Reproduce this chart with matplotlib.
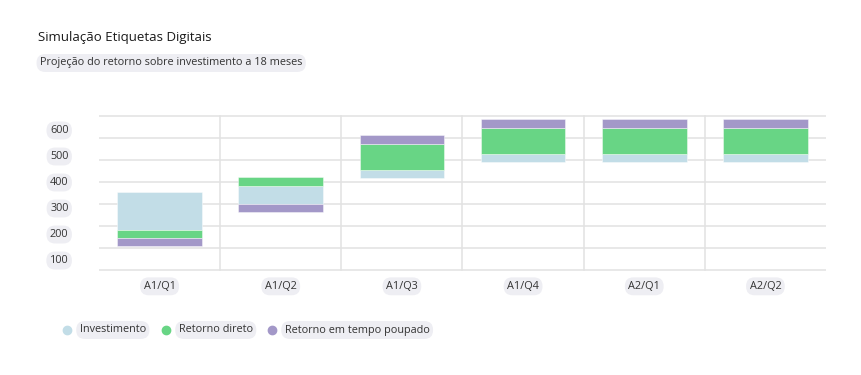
import matplotlib
matplotlib.use("Agg")
import matplotlib.pyplot as plt
from matplotlib.lines import Line2D
import numpy as np

plt.rcParams['font.family'] = ['Open Sans', 'DejaVu Sans']

# dados
categorias = ["A1/Q1", "A1/Q2", "A1/Q3", "A1/Q4", "A2/Q1", "A2/Q2"]
investimento_min = [182, 299, 417, 490, 490, 490]
investimento_max = [356, 382, 456, 529, 529, 529]
direto_min = [144, 382, 456, 529, 529, 529]
direto_max = [182, 421, 573, 645, 645, 645]
tempo_min = [108, 262, 573, 645, 645, 645]
tempo_max = [144, 299, 612, 685, 685, 685]
eixo_labels = [100, 200, 300, 400, 500, 600]

series = [
    ("Investimento", investimento_min, investimento_max, "#c2dde7"),
    ("Retorno direto", direto_min, direto_max, "#68d585"),
    ("Retorno em tempo poupado", tempo_min, tempo_max, "#a398c8"),
]

W, H = 862, 375
fig = plt.figure(figsize=(W / 100, H / 100), dpi=100)
left, right = 99, 826
top_px, bot_px = 114.9, 271.1
ax = fig.add_axes([left / W, 1 - bot_px / H, (right - left) / W, (bot_px - top_px) / H])

x = np.arange(len(categorias))
for nome, lo, hi, cor in series:
    lo = np.array(lo)
    hi = np.array(hi)
    ax.bar(x, hi - lo, bottom=lo, width=0.70, color=cor, edgecolor=(1, 1, 1, 0.5),
           linewidth=0.6, label=nome, zorder=3)

ax.set_xlim(-0.5, 5.5)
ax.set_ylim(-5, 705)
ax.set_yticks(range(0, 701, 100))
ax.yaxis.grid(True, color="#e2e2e2", linewidth=1.1, zorder=0)
for b in np.arange(0.5, 5, 1):
    ax.axvline(b, color="#e2e2e2", linewidth=1.1, ymin=5 / 710, ymax=705 / 710, zorder=0)
ax.tick_params(axis="y", length=0, labelleft=False)
for s in ax.spines.values():
    s.set_visible(False)

pill = dict(boxstyle="round,pad=0.32,rounding_size=0.8", facecolor="#eeeef3", edgecolor="none")
fs = 7.8

ax.set_xticks(x)
ax.set_xticklabels(categorias, fontsize=fs, color="#333333")
ax.tick_params(axis="x", length=0, pad=7)
for t in ax.get_xticklabels():
    t.set_bbox(pill)

# escala dos rótulos do eixo
ax2 = ax.twinx()
ax2.set_ylim(53.5, 654.2)
ax2.yaxis.tick_left()
ax2.set_yticks(eixo_labels)
ax2.set_yticklabels([str(v) for v in eixo_labels], fontsize=fs, color="#333333")
ax2.tick_params(axis="y", length=0, pad=22)
for t in ax2.get_yticklabels():
    t.set_bbox(pill)
for s in ax2.spines.values():
    s.set_visible(False)

fig.text(38 / W, 1 - 38 / H, "Simulação Etiquetas Digitais", fontsize=9.5, color="#1a1a1a",
         fontweight="medium", va="center", ha="left")
fig.text(40 / W, 1 - 63 / H, "Projeção do retorno sobre investimento a 18 meses", fontsize=fs,
         color="#333333", va="center", ha="left", bbox=pill)

# legenda
leg_x = [66.7, 165.7, 271.7]
leg_y = 1 - 330 / H
for (nome, _, _, cor), lx in zip(series, leg_x):
    fig.add_artist(Line2D([lx / W], [leg_y], marker="o", linestyle="none", markersize=6,
                          color=cor, transform=fig.transFigure))
    fig.text((lx + 13) / W, leg_y, nome, fontsize=fs, color="#333333", va="center",
             ha="left", bbox=pill)

fig.savefig("out.png", dpi=100)
